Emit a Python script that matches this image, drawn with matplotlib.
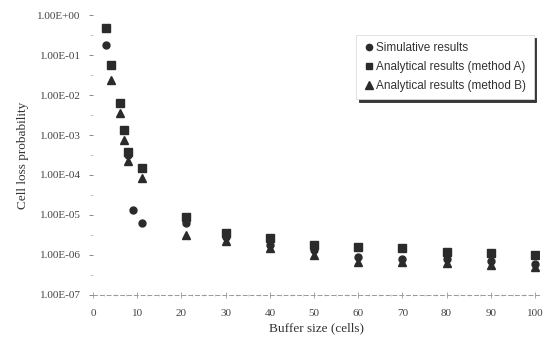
import numpy as np
import matplotlib
matplotlib.use("Agg")
import matplotlib.pyplot as plt
from matplotlib.ticker import FixedLocator, FuncFormatter

# values
buf_a = [3, 4, 6, 7, 8, 11, 21, 30, 40, 50, 60, 70, 80, 90, 100]
loss_a = [0.47, 0.056, 0.0063, 1.3e-3, 3.7e-4, 1.5e-4, 8.9e-6, 3.5e-6,
          2.6e-6, 1.8e-6, 1.6e-6, 1.5e-6, 1.2e-6, 1.1e-6, 1.0e-6]

buf_b = [4, 6, 7, 8, 11, 21, 30, 40, 50, 60, 70, 80, 90, 100]
loss_b = [0.024, 0.0035, 7.5e-4, 2.3e-4, 8.4e-5, 3.2e-6, 2.3e-6,
          1.5e-6, 1.0e-6, 6.6e-7, 6.6e-7, 6.3e-7, 5.6e-7, 5.0e-7]

buf_sim = [3, 8, 9, 11, 21, 30, 40, 50, 60, 70, 80, 90, 100]
loss_sim = [0.18, 3.2e-4, 1.3e-5, 6.3e-6, 6.3e-6, 2.8e-6, 1.8e-6,
            1.3e-6, 9e-7, 8e-7, 8e-7, 7e-7, 6e-7]

xticks = list(range(0, 101, 10))
ydecades = [10.0**k for k in range(0, -8, -1)]

col = '#2b2b2b'
plt.rcParams['font.family'] = ['Liberation Serif', 'DejaVu Serif']

fig = plt.figure(figsize=(5.44, 3.54), dpi=100)
ax = fig.add_axes([0.171, 0.1667, 0.8206, 0.7909])

ax.plot(buf_sim, loss_sim, 'o', color=col, ms=5, mec=col, label='Simulative results')
ax.plot(buf_a, loss_a, 's', color=col, ms=5.5, mec=col, label='Analytical results (method A)')
ax.plot(buf_b, loss_b, '^', color=col, ms=6, mec=col, label='Analytical results (method B)')

ax.set_yscale('log')
ax.set_ylim(1e-7, 1.0)
ax.set_xlim(0, 101)

ax.yaxis.set_major_locator(FixedLocator(ydecades))
ax.yaxis.set_minor_locator(FixedLocator([d * 10**-0.5 for d in ydecades[:-1]]))
ax.yaxis.set_major_formatter(FuncFormatter(lambda v, p: '%.2E' % v))
ax.set_xticks(xticks)
ax.xaxis.set_minor_locator(FixedLocator(np.arange(0, 101, 2.5)))

for s in ['top', 'right', 'left']:
    ax.spines[s].set_visible(False)
ax.spines['bottom'].set_linestyle((0, (4, 3)))
ax.spines['bottom'].set_color('#999999')
ax.spines['bottom'].set_linewidth(0.7)

ax.tick_params(axis='y', which='major', length=3, width=0.7, color='#888888',
               labelsize=8, labelcolor='#444444', pad=6)
ax.tick_params(axis='y', which='minor', length=2, width=0.6, color='#bbbbbb')
ax.tick_params(axis='x', which='major', direction='inout', length=4, width=0.6,
               color='#999999', labelsize=8, labelcolor='#444444', pad=8)
ax.tick_params(axis='x', which='minor', direction='inout', length=2, width=0.5,
               color='#bbbbbb')

ax.set_xlabel('Buffer size (cells)', fontsize=9.5, color='#333333', labelpad=3)
ax.set_ylabel('Cell loss probability', fontsize=9.5, color='#333333', labelpad=6)

leg = ax.legend(loc='upper right', bbox_to_anchor=(1.0, 0.95), frameon=True,
                shadow={'color': '#222222', 'alpha': 0.9}, fancybox=False,
                handletextpad=0.1, handlelength=1.0,
                borderpad=0.6, labelspacing=0.6, markerscale=0.9,
                prop={'family': 'Liberation Sans', 'size': 8.5})
leg.get_frame().set_edgecolor('#dddddd')
leg.get_frame().set_linewidth(0.6)
for t in leg.get_texts():
    t.set_color('#333333')

plt.savefig('out.png', dpi=100)
